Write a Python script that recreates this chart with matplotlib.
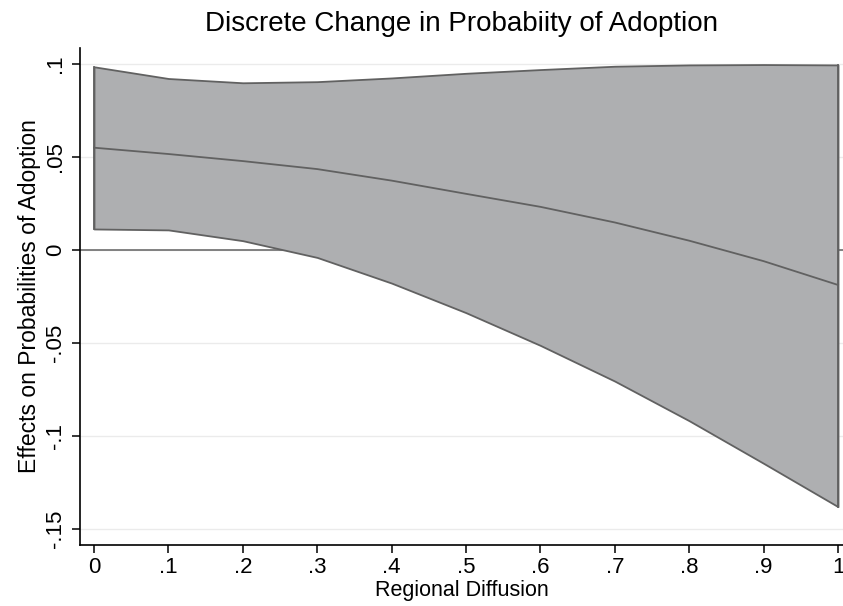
import numpy as np
import matplotlib.pyplot as plt

plt.rcParams['font.family'] = ['Liberation Sans', 'DejaVu Sans']

# regional diffusion values
x = [0, .1, .2, .3, .4, .5, .6, .7, .8, .9, 1]
# discrete change estimate and 95% bounds
effect = [0.0550, 0.0516, 0.0478, 0.0435, 0.0373, 0.0302, 0.0232, 0.0148, 0.0050, -0.0060, -0.0188]
upper = [0.0985, 0.0922, 0.0899, 0.0905, 0.0925, 0.0950, 0.0970, 0.0988, 0.0995, 0.0997, 0.0995]
lower = [0.0113, 0.0108, 0.0050, -0.0040, -0.0178, -0.0337, -0.0513, -0.0705, -0.0918, -0.1147, -0.1380]

xticks = [0, .1, .2, .3, .4, .5, .6, .7, .8, .9, 1]
xticklabels = ["0", ".1", ".2", ".3", ".4", ".5", ".6", ".7", ".8", ".9", "1"]
yticks = [-.15, -.1, -.05, 0, .05, .1]
yticklabels = ["-.15", "-.1", "-.05", "0", ".05", ".1"]

fig = plt.figure(figsize=(8.43, 6.06), dpi=100)
ax = fig.add_axes([0.0949, 0.1007, 0.9051, 0.8201])

edge = "#616161"
ax.fill_between(x, lower, upper, facecolor="#aeafb1", edgecolor=edge, linewidth=1.3, zorder=2)
ax.plot([x[0], x[0]], [lower[0], upper[0]], color=edge, linewidth=1.3, zorder=3)
ax.plot([x[-1], x[-1]], [lower[-1], upper[-1]], color=edge, linewidth=1.3, zorder=3)
ax.plot(x, effect, color=edge, linewidth=1.3, zorder=3)
ax.axhline(0, color="#6e6e6e", linewidth=1.2, zorder=1)

ax.set_xlim(-0.0188, 1.0067)
ax.set_ylim(-0.1586, 0.1086)
ax.set_xticks(xticks)
ax.set_xticklabels(xticklabels)
ax.set_yticks(yticks)
ax.set_yticklabels(yticklabels, rotation=90, va="center")
ax.grid(axis="y", color="#ebebeb", linewidth=1.0, zorder=0)
ax.set_axisbelow(True)

for s in ["top", "right"]:
    ax.spines[s].set_visible(False)
for s in ["left", "bottom"]:
    ax.spines[s].set_color("#000000")
    ax.spines[s].set_linewidth(1.2)
ax.tick_params(axis="both", direction="out", length=6, width=1.1, labelsize=16, pad=4)
ax.tick_params(axis="x", pad=3)

ax.set_title("Discrete Change in Probabiity of Adoption", fontsize=20, pad=12)
ax.set_xlabel("Regional Diffusion", fontsize=15.5, labelpad=1)
ax.set_ylabel("Effects on Probabilities of Adoption", fontsize=16.5, labelpad=3)

fig.savefig("out.png", dpi=100)
